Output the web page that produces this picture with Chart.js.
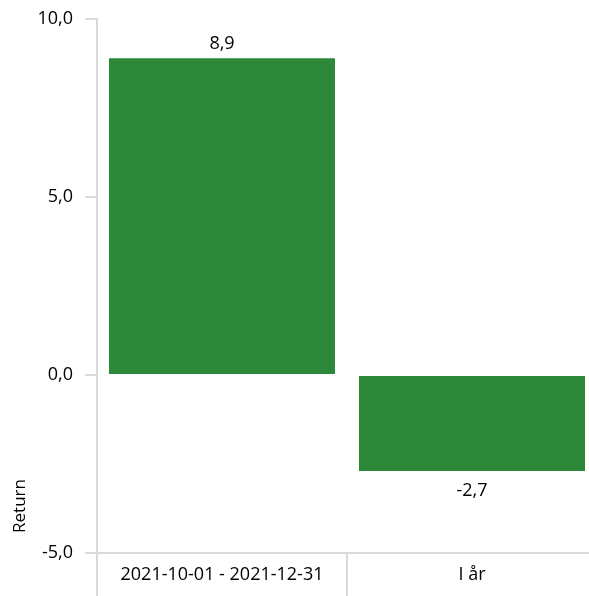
<!DOCTYPE html>
<html>
<head>
<meta charset="utf-8">
<script src="https://cdn.jsdelivr.net/npm/chart.js@4.4.1/dist/chart.umd.min.js"></script>
<style>
    html, body { margin: 0; padding: 0; background: #fff; overflow: hidden; }
    #wrap { width: 600px; height: 596px; position: relative; }
</style>
</head>
<body>
<div id="wrap"><canvas id="returnChart"></canvas></div>
<script>
const categories = ['2021-10-01 - 2021-12-31', 'I år'];
const returns = [8.9, -2.7];
const yTicks = [-5, 0, 5, 10];

const FONT = "'Open Sans', sans-serif";
const fmt = v => v.toFixed(1).replace('.', ',');

// value labels above/below each bar
const valueLabels = {
    id: 'valueLabels',
    afterDatasetsDraw(chart) {
        const ctx = chart.ctx;
        const meta = chart.getDatasetMeta(0);
        ctx.save();
        ctx.font = '18px ' + FONT;
        ctx.fillStyle = '#000';
        ctx.textAlign = 'center';
        ctx.textBaseline = 'middle';
        meta.data.forEach((bar, i) => {
            const v = returns[i];
            const y = v >= 0 ? bar.y - 14 : bar.y + 20;
            ctx.fillText(fmt(v), bar.x, y);
        });
        ctx.restore();
    }
};

// y axis title placed low on the axis
const yTitle = {
    id: 'yTitle',
    afterDraw(chart) {
        const ctx = chart.ctx;
        ctx.save();
        ctx.translate(20, 506);
        ctx.rotate(-Math.PI / 2);
        ctx.font = '17px ' + FONT;
        ctx.fillStyle = '#000';
        ctx.textAlign = 'center';
        ctx.textBaseline = 'middle';
        ctx.fillText('Return', 0, 0);
        ctx.restore();
    }
};

new Chart(document.getElementById('returnChart'), {
    type: 'bar',
    data: {
        labels: categories,
        datasets: [{
            data: returns,
            backgroundColor: '#2d8939',
            borderWidth: 0,
            categoryPercentage: 1.0,
            barPercentage: 0.904,
        }],
    },
    options: {
        responsive: true,
        maintainAspectRatio: false,
        animation: false,
        layout: { padding: { top: 19, right: 3, left: 0, bottom: 0 } },
        plugins: { legend: { display: false }, tooltip: { enabled: false } },
        scales: {
            y: {
                min: -5,
                max: 10,
                afterBuildTicks: scale => { scale.ticks = yTicks.map(v => ({ value: v })); },
                afterFit: scale => { scale.width = 97; scale.paddingTop = 0; scale.paddingBottom = 0; },
                border: { color: '#d9d9d9', width: 2 },
                grid: { drawOnChartArea: false, drawTicks: true, tickLength: 12, color: '#d9d9d9', lineWidth: 2 },
                ticks: { color: '#000', font: { family: FONT, size: 18 }, padding: 12, callback: v => fmt(v) },
            },
            x: {
                afterFit: scale => { scale.height = 43; scale.paddingLeft = 0; scale.paddingRight = 0; },
                border: { color: '#d9d9d9', width: 2 },
                grid: { offset: true, drawOnChartArea: false, drawTicks: true, tickLength: 44, color: '#d9d9d9', lineWidth: 2 },
                ticks: { color: '#000', font: { family: FONT, size: 18 }, padding: -33, maxRotation: 0 },
            },
        },
    },
    plugins: [valueLabels, yTitle],
});
</script>
</body>
</html>
